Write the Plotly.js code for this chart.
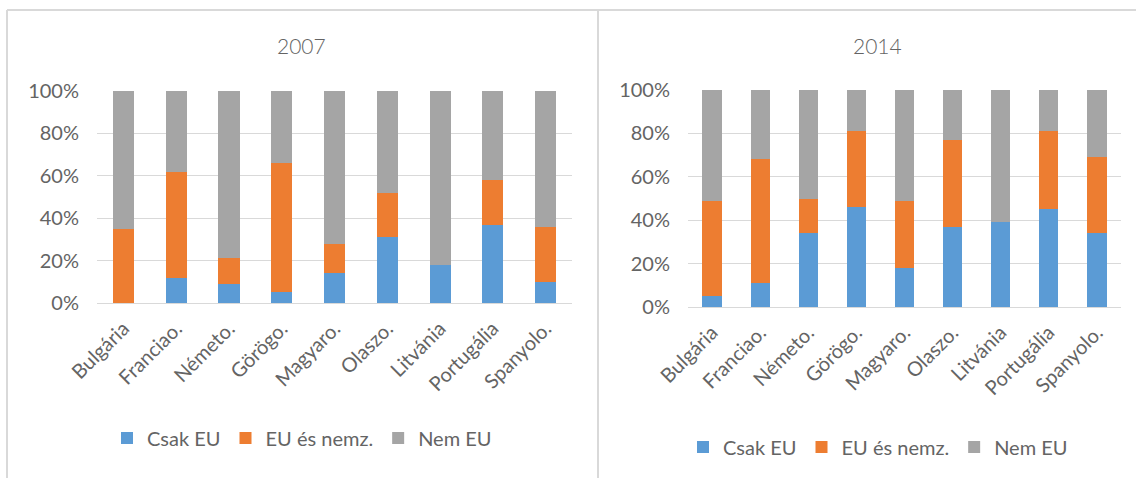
<!DOCTYPE html>
<html>
<head>
<meta charset="utf-8">
<script src="https://cdn.plot.ly/plotly-3.0.1.min.js"></script>
<style>html,body{margin:0;padding:0;background:#fff;}#chart{width:1136px;height:478px;}</style>
</head>
<body>
<div id="chart"></div>
<script>
const categories = ["Bulgária", "Franciao.", "Németo.", "Görögo.", "Magyaro.", "Olaszo.", "Litvánia", "Portugália", "Spanyolo."];
const seriesNames = ["Csak EU", "EU és nemz.", "Nem EU"];
const csakEU2007 = [0, 12, 9, 5, 14, 31, 18, 37, 10];
const euNemz2007 = [35, 50, 12, 61, 14, 21, 0, 21, 26];
const nemEU2007 = [65, 38, 79, 34, 72, 48, 82, 42, 64];
const csakEU2014 = [5, 11, 34, 46, 18, 37, 39, 45, 34];
const euNemz2014 = [44, 57, 16, 35, 31, 40, 0, 36, 35];
const nemEU2014 = [51, 32, 50, 19, 51, 23, 61, 19, 31];
const titles = ["2007", "2014"];
const yTicks = [0, 20, 40, 60, 80, 100];
const yTickLabels = ["0%", "20%", "40%", "60%", "80%", "100%"];

const colors = ["#5B9BD5", "#ED7D31", "#A5A5A5"];
const W = 1136, H = 478;
const FONT = "Lato, 'Open Sans', sans-serif";
const TXT = "#646464";

function mk(vals, i, xa, ya, leg) {
  return {
    type: "bar", x: categories, y: vals, name: seriesNames[i],
    xaxis: xa, yaxis: ya, legend: leg,
    marker: {color: colors[i], line: {width: 0}},
    hoverinfo: "x+y+name"
  };
}
const data = [
  mk(csakEU2007, 0, "x", "y", "legend"),
  mk(euNemz2007, 1, "x", "y", "legend"),
  mk(nemEU2007, 2, "x", "y", "legend"),
  mk(csakEU2014, 0, "x2", "y2", "legend2"),
  mk(euNemz2014, 1, "x2", "y2", "legend2"),
  mk(nemEU2014, 2, "x2", "y2", "legend2")
];

function xa(l, r, anchor) {
  return {domain: [l / W, r / W], anchor: anchor, tickangle: -45, showgrid: false, zeroline: false,
    showline: false, ticks: "", ticklabelstandoff: 9,
    tickfont: {family: FONT, size: 20, color: TXT}, fixedrange: true};
}
function ya(b, t, anchor) {
  return {domain: [(H - b) / H, (H - t) / H], anchor: anchor, range: [0, 100], tickmode: "array",
    tickvals: yTicks, ticktext: yTickLabels,
    showgrid: true, gridcolor: "#D9D9D9", gridwidth: 1, zeroline: true,
    zerolinecolor: "#D9D9D9", showline: false, ticks: "", ticklabelstandoff: 17,
    tickfont: {family: FONT, size: 20, color: TXT}, fixedrange: true};
}

const layout = {
  width: W, height: H,
  margin: {l: 0, r: 0, t: 0, b: 0},
  paper_bgcolor: "#fff", plot_bgcolor: "#fff",
  barmode: "stack", bargap: 0.6,
  font: {family: FONT, color: TXT},
  xaxis: xa(97, 572, "y"),
  yaxis: ya(303, 91, "x"),
  xaxis2: xa(688, 1121, "y2"),
  yaxis2: ya(307, 90, "x2"),
  legend: {orientation: "h", x: 302 / W, xanchor: "center", y: (H - 438) / H, yanchor: "middle",
    font: {family: FONT, size: 20, color: TXT}, bgcolor: "rgba(0,0,0,0)", traceorder: "normal"},
  legend2: {orientation: "h", x: 878 / W, xanchor: "center", y: (H - 447) / H, yanchor: "middle",
    font: {family: FONT, size: 20, color: TXT}, bgcolor: "rgba(0,0,0,0)", traceorder: "normal"},
  annotations: [
    {text: titles[0], xref: "paper", yref: "paper", x: 301 / W, y: (H - 46) / H, showarrow: false,
     xanchor: "center", yanchor: "middle",
     font: {family: FONT, size: 21, color: TXT, weight: 300}},
    {text: titles[1], xref: "paper", yref: "paper", x: 877 / W, y: (H - 46) / H, showarrow: false,
     xanchor: "center", yanchor: "middle",
     font: {family: FONT, size: 21, color: TXT, weight: 300}}
  ],
  shapes: [
    {type: "line", xref: "paper", yref: "paper", x0: 7 / W, x1: 1, y0: (H - 10) / H, y1: (H - 10) / H,
     line: {color: "#D9D9D9", width: 2}},
    {type: "line", xref: "paper", yref: "paper", x0: 7 / W, x1: 7 / W, y0: 0, y1: (H - 10) / H,
     line: {color: "#D9D9D9", width: 2}},
    {type: "line", xref: "paper", yref: "paper", x0: 598 / W, x1: 598 / W, y0: 0, y1: (H - 10) / H,
     line: {color: "#D9D9D9", width: 2}}
  ]
};

Plotly.newPlot("chart", data, layout, {displayModeBar: false, staticPlot: true});
</script>
</body>
</html>
